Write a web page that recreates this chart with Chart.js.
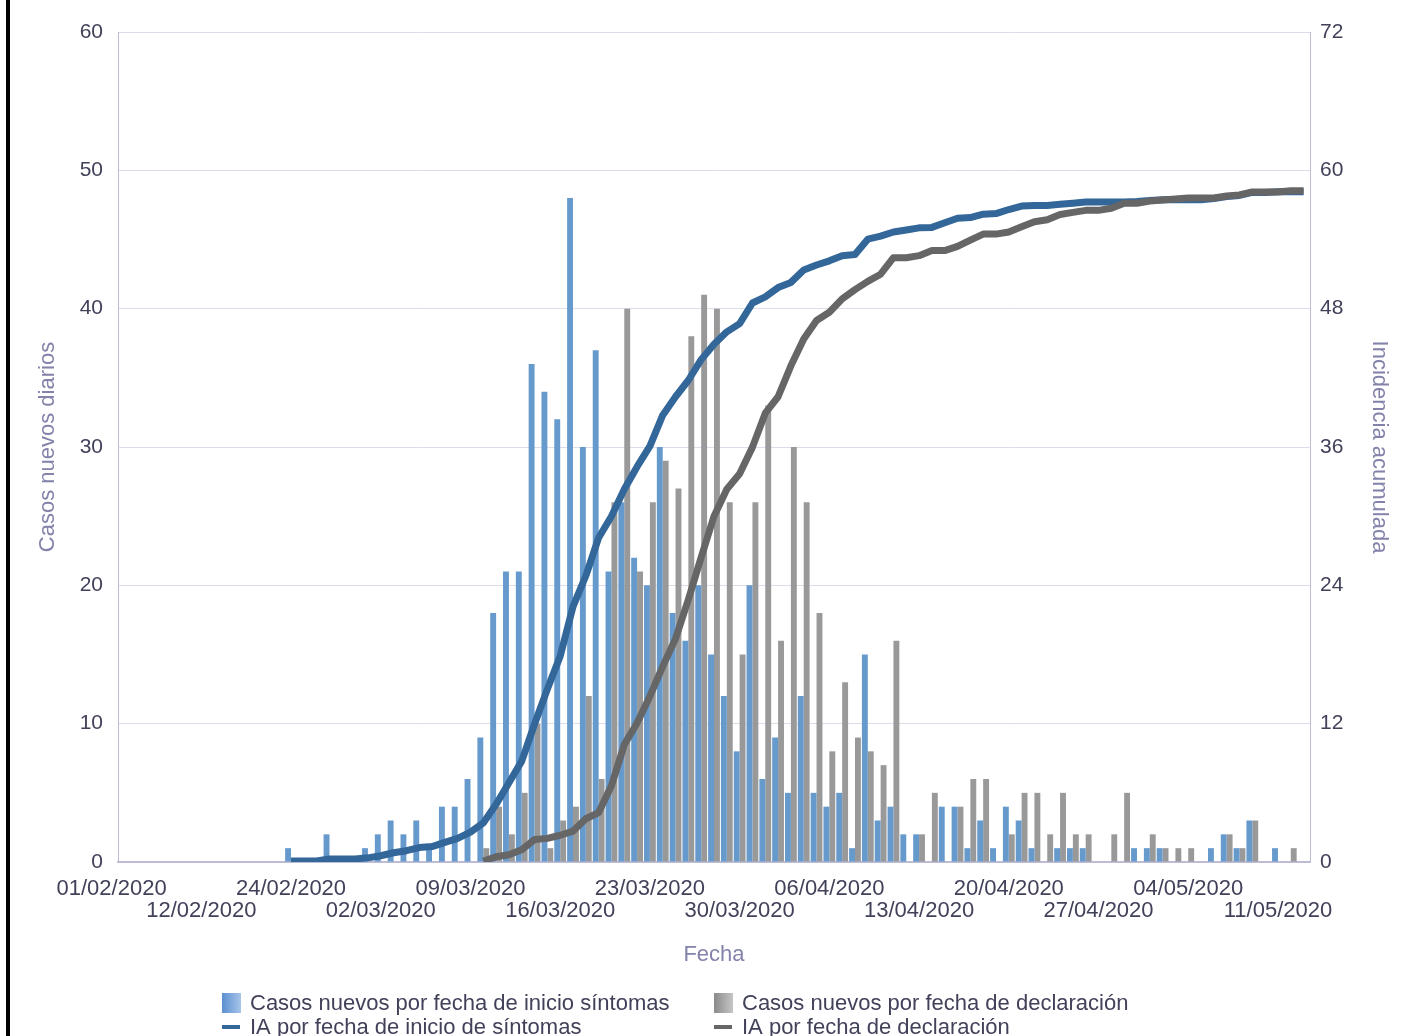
<!DOCTYPE html>
<html>
<head>
<meta charset="utf-8">
<script src="https://cdn.jsdelivr.net/npm/chart.js@4.4.1/dist/chart.umd.min.js"></script>
<style>
html,body{margin:0;padding:0;background:#fff;overflow:hidden}
canvas{display:block}
</style>
</head>
<body>
<canvas id="c" width="1414" height="1036"></canvas>
<script>
const categories = [
'01/02/2020','03/02/2020','04/02/2020','05/02/2020','07/02/2020','09/02/2020','10/02/2020',
'12/02/2020','13/02/2020','15/02/2020','17/02/2020','18/02/2020','20/02/2020','22/02/2020',
'24/02/2020','25/02/2020','26/02/2020','27/02/2020','28/02/2020','29/02/2020',
'01/03/2020','02/03/2020','03/03/2020','04/03/2020','05/03/2020','06/03/2020','07/03/2020','08/03/2020','09/03/2020','10/03/2020',
'11/03/2020','12/03/2020','13/03/2020','14/03/2020','15/03/2020','16/03/2020','17/03/2020','18/03/2020','19/03/2020','20/03/2020',
'21/03/2020','22/03/2020','23/03/2020','24/03/2020','25/03/2020','26/03/2020','27/03/2020','28/03/2020','29/03/2020','30/03/2020','31/03/2020',
'01/04/2020','02/04/2020','03/04/2020','04/04/2020','05/04/2020','06/04/2020','07/04/2020','08/04/2020','09/04/2020','10/04/2020',
'11/04/2020','12/04/2020','13/04/2020','14/04/2020','15/04/2020','16/04/2020','17/04/2020','18/04/2020','19/04/2020','20/04/2020',
'21/04/2020','22/04/2020','23/04/2020','24/04/2020','25/04/2020','26/04/2020','27/04/2020','28/04/2020','29/04/2020','30/04/2020',
'01/05/2020','02/05/2020','03/05/2020','04/05/2020','05/05/2020','06/05/2020','07/05/2020','08/05/2020','09/05/2020','10/05/2020',
'11/05/2020','12/05/2020','13/05/2020'
];

// Casos nuevos por fecha de inicio de síntomas (left axis)
const casosInicio = [
null,null,null,null,null,null,null,null,null,null,null,null,null,null,
1,0,0,2,0,0,1,2,3,2,3,1,4,4,6,
9,18,21,21,36,34,32,48,30,37,
21,26,22,20,30,18,16,20,15,12,
8,20,6,9,5,12,5,4,5,1,
15,3,4,2,2,0,4,4,1,3,
1,4,3,1,0,1,1,1,0,0,
0,1,1,1,0,0,0,1,2,1,3,0,1,0,0
];

// Casos nuevos por fecha de declaración (left axis)
const casosDeclaracion = [
null,null,null,null,null,null,null,null,null,null,null,null,null,null,
null,null,null,null,null,null,null,null,null,null,null,null,null,null,null,
1,4,2,5,10,1,3,4,12,6,
26,40,21,26,29,27,38,41,40,26,
15,26,33,16,30,26,18,8,13,9,
8,7,16,0,2,5,0,4,6,6,
0,2,5,5,2,5,2,2,0,2,
5,0,2,1,1,1,0,0,2,1,3,0,0,1,0
];

// IA por fecha de inicio de síntomas (right axis)
const iaInicio = [
null,null,null,null,null,null,null,null,null,null,null,null,null,null,
0.09,0.09,0.09,0.27,0.27,0.27,0.36,0.54,0.80,0.98,1.25,1.34,1.70,2.05,2.59,
3.39,5.00,6.88,8.75,11.97,15.00,17.86,22.15,24.83,28.13,
30.00,32.33,34.29,36.08,38.76,40.36,41.79,43.58,44.92,45.99,
46.70,48.49,49.03,49.83,50.28,51.35,51.79,52.15,52.60,52.69,
54.03,54.29,54.65,54.83,55.01,55.05,55.45,55.85,55.90,56.20,
56.25,56.60,56.90,56.95,56.95,57.05,57.15,57.25,57.25,57.25,
57.25,57.30,57.38,57.45,57.45,57.45,57.45,57.55,57.72,57.82,58.08,58.08,58.15,58.15,58.15
];

// IA por fecha de declaración (right axis)
const iaDeclaracion = [
null,null,null,null,null,null,null,null,null,null,null,null,null,null,
null,null,null,null,null,null,null,null,null,null,null,null,null,null,null,
0.09,0.45,0.63,1.07,1.96,2.05,2.32,2.68,3.75,4.29,
6.61,10.18,12.06,14.38,16.97,19.38,22.77,26.43,30.00,32.33,
33.67,35.99,38.93,40.36,43.04,45.36,46.97,47.69,48.85,49.65,
50.37,50.99,52.42,52.42,52.60,53.04,53.04,53.40,53.94,54.47,
54.47,54.65,55.10,55.54,55.72,56.17,56.35,56.53,56.53,56.71,
57.15,57.15,57.33,57.42,57.51,57.60,57.60,57.60,57.78,57.87,58.13,58.13,58.13,58.22,58.22
];

const xLabelIndices = [0,7,14,21,28,35,42,49,56,63,70,77,84,91];
const leftMax = 60, leftStep = 10;
const rightMax = 72, rightStep = 12;

const FONT = '"Liberation Sans", Arial, Helvetica, sans-serif';
const TEXT = '#41415a';
const TITLE = '#8282aa';
const GRID = '#dcdcea';
const AXIS = '#bcbcd4';

const toXY = arr => arr.map((v, i) => ({ x: i, y: v }));

const bgPlugin = {
  id: 'bg',
  beforeDraw(chart) {
    const ctx = chart.ctx;
    ctx.save();
    ctx.fillStyle = '#ffffff';
    ctx.fillRect(0, 0, chart.width, chart.height);
    ctx.restore();
  },
  afterDraw(chart) {
    const ctx = chart.ctx;
    ctx.save();
    ctx.fillStyle = '#000000';
    ctx.fillRect(6, 0, 4, chart.height);
    ctx.restore();
  }
};

const legendPlugin = {
  id: 'gridLegend',
  afterDraw(chart) {
    const ctx = chart.ctx;
    const ds = chart.data.datasets;
    const slots = [
      { i: 0, x: 222, y: 1003 },
      { i: 1, x: 714, y: 1003 },
      { i: 2, x: 222, y: 1027 },
      { i: 3, x: 714, y: 1027 }
    ];
    ctx.save();
    ctx.font = '22px ' + FONT;
    ctx.textBaseline = 'middle';
    ctx.textAlign = 'left';
    slots.forEach(s => {
      const d = ds[s.i];
      if (d.type === 'line') {
        ctx.strokeStyle = d.borderColor;
        ctx.lineWidth = 4;
        ctx.beginPath();
        ctx.moveTo(s.x, s.y);
        ctx.lineTo(s.x + 18, s.y);
        ctx.stroke();
      } else {
        const g = ctx.createLinearGradient(s.x, 0, s.x + 19, 0);
        g.addColorStop(0, d.legendDark);
        g.addColorStop(1, d.legendLight);
        ctx.fillStyle = g;
        ctx.fillRect(s.x, s.y - 10, 19, 20);
      }
      ctx.fillStyle = TEXT;
      ctx.fillText(d.label, s.x + 28, s.y + 1);
    });
    ctx.restore();
  }
};

new Chart(document.getElementById('c'), {
  type: 'bar',
  data: {
    datasets: [
      {
        type: 'bar',
        label: 'Casos nuevos por fecha de inicio síntomas',
        data: toXY(casosInicio),
        backgroundColor: '#6699cc',
        legendDark: '#5b8ecf',
        legendLight: '#a8c5ea',
        yAxisID: 'y',
        order: 2,
        categoryPercentage: 0.92,
        barPercentage: 1.0
      },
      {
        type: 'bar',
        label: 'Casos nuevos por fecha de declaración',
        data: toXY(casosDeclaracion),
        backgroundColor: '#999999',
        legendDark: '#8a8a8a',
        legendLight: '#c6c6c6',
        yAxisID: 'y',
        order: 3,
        categoryPercentage: 0.92,
        barPercentage: 1.0
      },
      {
        type: 'line',
        label: 'IA por fecha de inicio de síntomas',
        data: toXY(iaInicio),
        borderColor: '#336699',
        backgroundColor: '#336699',
        borderWidth: 7,
        pointRadius: 0,
        tension: 0,
        borderJoinStyle: 'round',
        yAxisID: 'y2',
        order: 1
      },
      {
        type: 'line',
        label: 'IA por fecha de declaración',
        data: toXY(iaDeclaracion),
        borderColor: '#666666',
        backgroundColor: '#666666',
        borderWidth: 7,
        pointRadius: 0,
        tension: 0,
        borderJoinStyle: 'round',
        yAxisID: 'y2',
        order: 0
      }
    ]
  },
  options: {
    responsive: false,
    animation: false,
    devicePixelRatio: 1,
    layout: { padding: { top: 32, left: 0, right: 0, bottom: 64 } },
    plugins: {
      legend: { display: false },
      tooltip: { enabled: false }
    },
    scales: {
      x: {
        type: 'linear',
        position: 'bottom',
        offset: false,
        min: 0.5,
        max: 93.5,
        afterBuildTicks: scale => {
          scale.ticks = xLabelIndices.map(v => ({ value: v }));
        },
        afterFit: scale => { scale.height = 110; },
        grid: { display: false, drawTicks: false, offset: false },
        border: { display: true, color: AXIS, width: 2 },
        ticks: {
          autoSkip: false,
          maxRotation: 0,
          minRotation: 0,
          padding: 16,
          color: TEXT,
          font: { family: FONT, size: 22, lineHeight: 1.0 },
          callback: (value) => {
            const k = xLabelIndices.indexOf(value);
            const txt = categories[value];
            return k % 2 === 0 ? [txt, ''] : ['', txt];
          }
        },
        title: {
          display: true,
          text: 'Fecha',
          color: TITLE,
          font: { family: FONT, size: 22, lineHeight: 1.2 },
          padding: { top: 0, bottom: 4 }
        }
      },
      y: {
        type: 'linear',
        position: 'left',
        min: 0,
        max: leftMax,
        afterFit: scale => { scale.width = 118; },
        ticks: {
          stepSize: leftStep,
          padding: 15,
          color: TEXT,
          font: { family: FONT, size: 21 }
        },
        grid: { color: GRID, lineWidth: 1, drawTicks: false },
        border: { display: true, color: AXIS, width: 1 },
        title: {
          display: true,
          text: 'Casos nuevos diarios',
          color: TITLE,
          font: { family: FONT, size: 22, lineHeight: 1.2 },
          padding: { top: 35, bottom: 0 }
        }
      },
      y2: {
        type: 'linear',
        position: 'right',
        min: 0,
        max: rightMax,
        afterFit: scale => { scale.width = 104; },
        ticks: {
          stepSize: rightStep,
          padding: 10,
          color: TEXT,
          font: { family: FONT, size: 21 }
        },
        grid: { display: false, drawTicks: false },
        border: { display: true, color: AXIS, width: 1 },
        title: {
          display: true,
          text: 'Incidencia acumulada',
          color: TITLE,
          font: { family: FONT, size: 22, lineHeight: 1.2 },
          padding: { top: 22, bottom: 0 }
        }
      }
    }
  },
  plugins: [bgPlugin, legendPlugin]
});
</script>
</body>
</html>
